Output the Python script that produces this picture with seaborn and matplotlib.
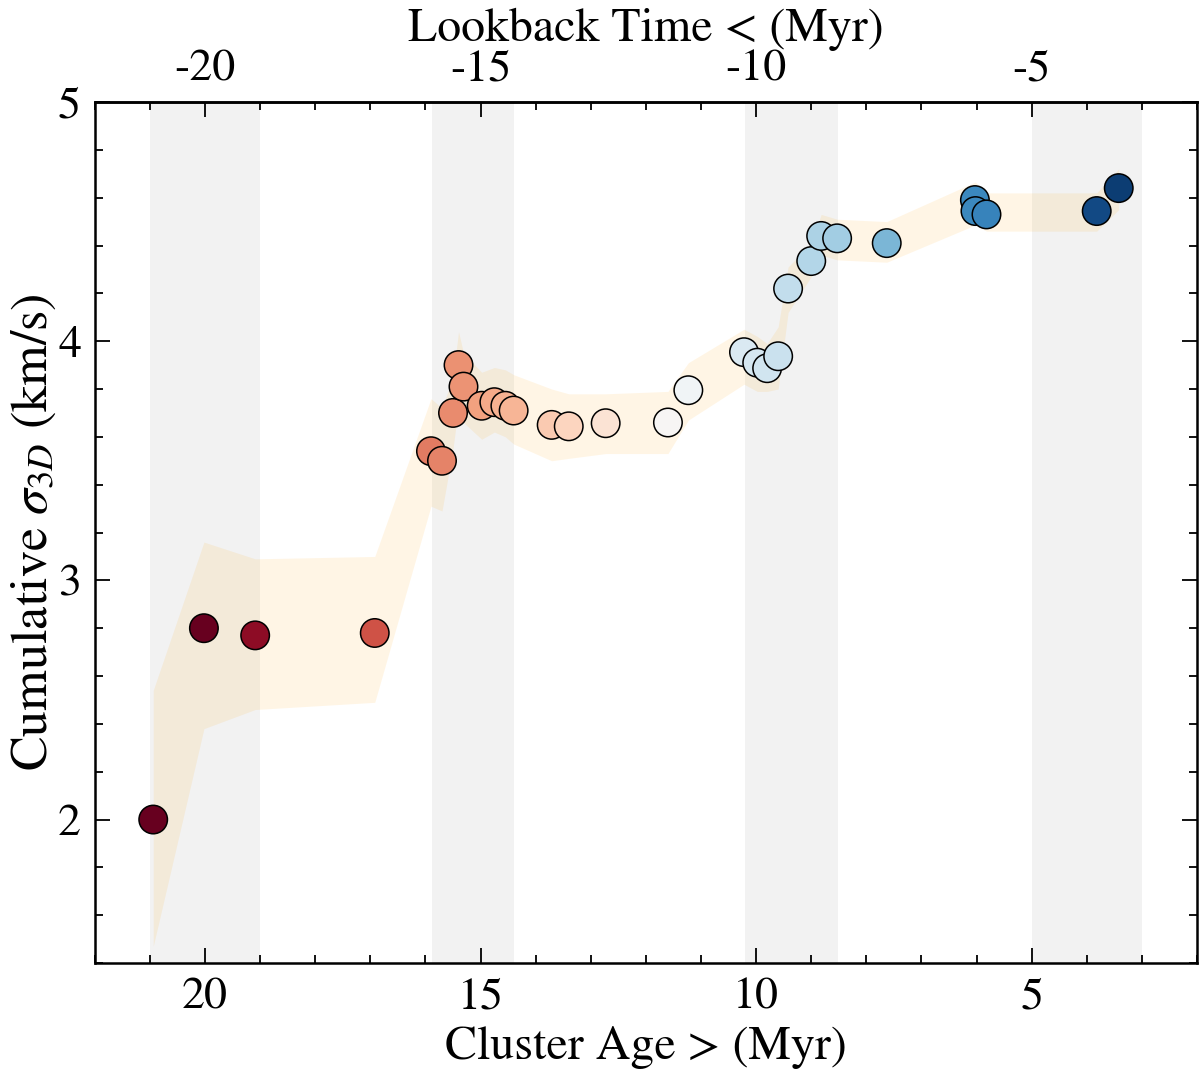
import numpy as np
import pandas as pd
import matplotlib
matplotlib.use("Agg")
import matplotlib.pyplot as plt
import seaborn as sns
from matplotlib.ticker import MultipleLocator
from matplotlib.colors import Normalize

# ---- data ----
age = [20.94, 20.02, 19.09, 16.92, 15.90, 15.70, 15.50, 15.40, 15.31, 14.98,
       14.75, 14.55, 14.40, 13.71, 13.40, 12.73, 11.60, 11.23, 10.22, 9.98,
       9.80, 9.60, 9.42, 9.00, 8.82, 8.53, 7.63, 6.03, 6.02, 5.82, 3.82, 3.42]
sigma = [2.00, 2.80, 2.77, 2.78, 3.54, 3.50, 3.70, 3.90, 3.81, 3.73,
         3.745, 3.73, 3.71, 3.65, 3.644, 3.657, 3.66, 3.795, 3.954, 3.91,
         3.887, 3.937, 4.22, 4.335, 4.44, 4.43, 4.41, 4.59, 4.544, 4.53, 4.544, 4.64]
band_upper = [2.54, 3.16, 3.09, 3.10, 3.76, 3.72, 3.85, 4.04, 3.95, 3.87,
              3.89, 3.88, 3.86, 3.80, 3.78, 3.78, 3.79, 3.91, 4.05, 4.02,
              3.99, 4.06, 4.31, 4.41, 4.53, 4.51, 4.50, 4.665, 4.665, 4.62, 4.62, 4.72]
band_lower = [1.47, 2.38, 2.46, 2.49, 3.31, 3.29, 3.55, 3.73, 3.66, 3.59,
              3.62, 3.60, 3.57, 3.50, 3.51, 3.53, 3.53, 3.67, 3.82, 3.79,
              3.79, 3.80, 4.12, 4.27, 4.36, 4.34, 4.33, 4.485, 4.485, 4.46, 4.46, 4.55]
shade_spans = [(21.0, 19.0), (15.89, 14.4), (10.2, 8.51), (5.0, 3.0)]
color_range = (3.0, 20.0)
x_ticks = [20, 15, 10, 5]
top_ticks = [-20, -15, -10, -5]
y_ticks = [2, 3, 4, 5]

df = pd.DataFrame({"age": age, "sigma": sigma})

sns.set_style("ticks")
plt.rcParams["font.family"] = ["STIXGeneral", "DejaVu Serif"]
plt.rcParams["mathtext.fontset"] = "stix"
plt.rcParams["axes.unicode_minus"] = False
for k in ["text.color", "axes.labelcolor", "xtick.color", "ytick.color",
          "axes.edgecolor"]:
    plt.rcParams[k] = "black"

fig = plt.figure(figsize=(12, 10.77), dpi=100)
ax = fig.add_axes([0.079, 0.1058, 0.9185, 0.7995])

for a, b in shade_spans:
    ax.axvspan(a, b, color="gray", alpha=0.1, lw=0, zorder=0)

ax.fill_between(age, band_lower, band_upper, color="orange", alpha=0.1,
                lw=0, zorder=1)

sns.scatterplot(data=df, x="age", y="sigma", hue="age", palette="RdBu_r",
                hue_norm=Normalize(*color_range, clip=True), s=420,
                edgecolor="black", linewidth=1.1, legend=False, zorder=3, ax=ax)

ax.set_xlim(22, 2)
ax.set_ylim(1.4, 5.0)
ax.set_xticks(x_ticks)
ax.set_yticks(y_ticks)
ax.xaxis.set_minor_locator(MultipleLocator(1))
ax.yaxis.set_minor_locator(MultipleLocator(0.2))

ax.set_xlabel("Cluster Age > (Myr)", fontsize=34.5, labelpad=6)
ax.set_ylabel(r"Cumulative $\sigma_{3D}$ (km/s)", fontsize=37.5, labelpad=0)

ax.tick_params(which="both", direction="in", right=True, top=False,
               labelsize=33, width=1.3)
ax.tick_params(which="major", length=11, pad=10)
ax.tick_params(which="minor", length=6)
for sp in ax.spines.values():
    sp.set_linewidth(1.8)

sec = ax.secondary_xaxis("top", functions=(lambda x: -x, lambda x: -x))
sec.set_xticks(top_ticks)
sec.xaxis.set_minor_locator(MultipleLocator(1))
sec.tick_params(which="both", direction="in", labelsize=33, width=1.3)
sec.tick_params(which="major", length=11, pad=8)
sec.tick_params(which="minor", length=6)
sec.set_xlabel("Lookback Time < (Myr)", fontsize=34.5, labelpad=6)
sec.spines["top"].set_linewidth(1.8)

fig.savefig("out.png", dpi=100)
